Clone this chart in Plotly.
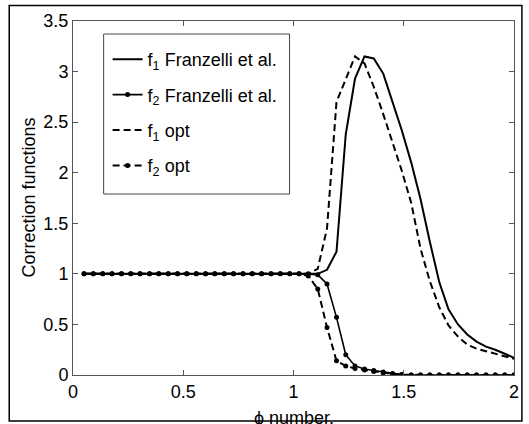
import plotly.graph_objects as go

phi = [0.050, 0.092, 0.135, 0.177, 0.220, 0.262, 0.304, 0.347, 0.389, 0.432,
       0.474, 0.516, 0.559, 0.601, 0.643, 0.686, 0.728, 0.771, 0.813, 0.855,
       0.898, 0.940, 0.983, 1.025, 1.067, 1.110, 1.152, 1.195, 1.237, 1.279,
       1.322, 1.364, 1.407, 1.449, 1.491, 1.534, 1.576, 1.618, 1.661, 1.703,
       1.746, 1.788, 1.830, 1.873, 1.915, 1.958, 2.000]

f1_franzelli = [1.0, 1.0, 1.0, 1.0, 1.0, 1.0, 1.0, 1.0, 1.0, 1.0,
                1.0, 1.0, 1.0, 1.0, 1.0, 1.0, 1.0, 1.0, 1.0, 1.0,
                1.0, 1.0, 1.0, 1.0, 1.0, 1.0, 1.04, 1.22, 2.38, 2.93,
                3.15, 3.13, 2.98, 2.70, 2.42, 2.10, 1.74, 1.32, 0.92, 0.65,
                0.50, 0.40, 0.33, 0.28, 0.25, 0.21, 0.17]

f2_franzelli = [1.0, 1.0, 1.0, 1.0, 1.0, 1.0, 1.0, 1.0, 1.0, 1.0,
                1.0, 1.0, 1.0, 1.0, 1.0, 1.0, 1.0, 1.0, 1.0, 1.0,
                1.0, 1.0, 1.0, 1.0, 1.0, 0.99, 0.90, 0.57, 0.20, 0.09,
                0.06, 0.045, 0.03, 0.015, 0.005, 0.0, 0.0, 0.0, 0.0, 0.0,
                0.0, 0.0, 0.0, 0.0, 0.0, 0.0, 0.0]

f1_opt = [1.0, 1.0, 1.0, 1.0, 1.0, 1.0, 1.0, 1.0, 1.0, 1.0,
          1.0, 1.0, 1.0, 1.0, 1.0, 1.0, 1.0, 1.0, 1.0, 1.0,
          1.0, 1.0, 1.0, 1.0, 1.0, 1.05, 1.45, 2.70, 2.93, 3.15,
          3.08, 2.85, 2.58, 2.30, 2.02, 1.70, 1.25, 0.93, 0.67, 0.49,
          0.38, 0.30, 0.26, 0.235, 0.21, 0.19, 0.16]

f2_opt = [1.0, 1.0, 1.0, 1.0, 1.0, 1.0, 1.0, 1.0, 1.0, 1.0,
          1.0, 1.0, 1.0, 1.0, 1.0, 1.0, 1.0, 1.0, 1.0, 1.0,
          1.0, 1.0, 1.0, 1.0, 0.98, 0.85, 0.47, 0.14, 0.09, 0.065,
          0.05, 0.035, 0.02, 0.01, 0.003, 0.0, 0.0, 0.0, 0.0, 0.0,
          0.0, 0.0, 0.0, 0.0, 0.0, 0.0, 0.0]

names = ["f<sub>1</sub> Franzelli et al.", "f<sub>2</sub> Franzelli et al.",
         "f<sub>1</sub> opt", "f<sub>2</sub> opt"]

x_ticks = [0, 0.5, 1, 1.5, 2]
x_tick_labels = ["0", "0.5", "1", "1.5", "2"]
y_ticks = [0, 0.5, 1, 1.5, 2, 2.5, 3, 3.5]
y_tick_labels = ["0", "0.5", "1", "1.5", "2", "2.5", "3", "3.5"]

FONT = "Liberation Sans, Arial, sans-serif"
FS = 18

fig = go.Figure()
fig.add_trace(go.Scatter(x=phi, y=f1_franzelli, name=names[0], mode="lines",
                         line=dict(color="black", width=2), legendgroup="a"))
fig.add_trace(go.Scatter(x=phi, y=f2_franzelli, name=names[1], mode="lines+markers",
                         line=dict(color="black", width=1.6),
                         marker=dict(color="black", size=5), legendgroup="b"))
fig.add_trace(go.Scatter(x=phi, y=f1_opt, name=names[2], mode="lines",
                         line=dict(color="black", width=2, dash="7px,4px"), legendgroup="c"))
fig.add_trace(go.Scatter(x=phi, y=f2_opt, name=names[3], mode="lines+markers",
                         line=dict(color="black", width=2, dash="7px,4px"),
                         marker=dict(color="black", size=5), legendgroup="d"))

W, H = 529, 424
L, R, T, B = 73, 10, 21, 49
pw, ph = W - L - R, H - T - B

def px_x(p):
    return (p - L) / pw

def px_y(p):
    return (H - B - p) / ph

fig.update_layout(
    width=W, height=H,
    margin=dict(l=L, r=R, t=T, b=B),
    paper_bgcolor="white", plot_bgcolor="white",
    font=dict(family=FONT, size=FS, color="black"),
    showlegend=True,
    legend=dict(x=px_x(108), y=px_y(41), xanchor="left", yanchor="top",
                bgcolor="rgba(0,0,0,0)", borderwidth=0,
                font=dict(family=FONT, size=FS, color="black"),
                traceorder="grouped", tracegroupgap=9),
    xaxis=dict(range=[0, 2], tickvals=x_ticks, ticktext=x_tick_labels,
               showgrid=False, zeroline=False, showline=True, linecolor="#555",
               linewidth=1, mirror="allticks", ticks="inside", ticklen=5,
               tickcolor="#555", tickfont=dict(family=FONT, size=FS, color="black")),
    yaxis=dict(range=[0, 3.5], tickvals=y_ticks, ticktext=y_tick_labels,
               showgrid=False, zeroline=False, showline=True, linecolor="#555",
               linewidth=1, mirror="allticks", ticks="inside", ticklen=5,
               tickcolor="#555", tickfont=dict(family=FONT, size=FS, color="black")),
    annotations=[
        dict(text="Correction functions", xref="paper", yref="paper",
             x=px_x(28), y=px_y(198), textangle=-90, showarrow=False,
             xanchor="center", yanchor="middle",
             font=dict(family=FONT, size=FS, color="black")),
        dict(text="\u03d5 number.", xref="paper", yref="paper",
             x=px_x(296), y=px_y(406), showarrow=False,
             xanchor="center", yanchor="top",
             font=dict(family=FONT, size=FS, color="black")),
    ],
    shapes=[
        dict(type="rect", xref="paper", yref="paper",
             x0=px_x(104), x1=px_x(292), y0=px_y(194), y1=px_y(34),
             line=dict(color="#444", width=1), fillcolor="white", layer="below"),
        dict(type="rect", xref="paper", yref="paper",
             x0=px_x(8.5), x1=px_x(527), y0=px_y(421), y1=px_y(5.5),
             line=dict(color="black", width=1.5), layer="above"),
    ],
)

fig.write_html("out.html")
